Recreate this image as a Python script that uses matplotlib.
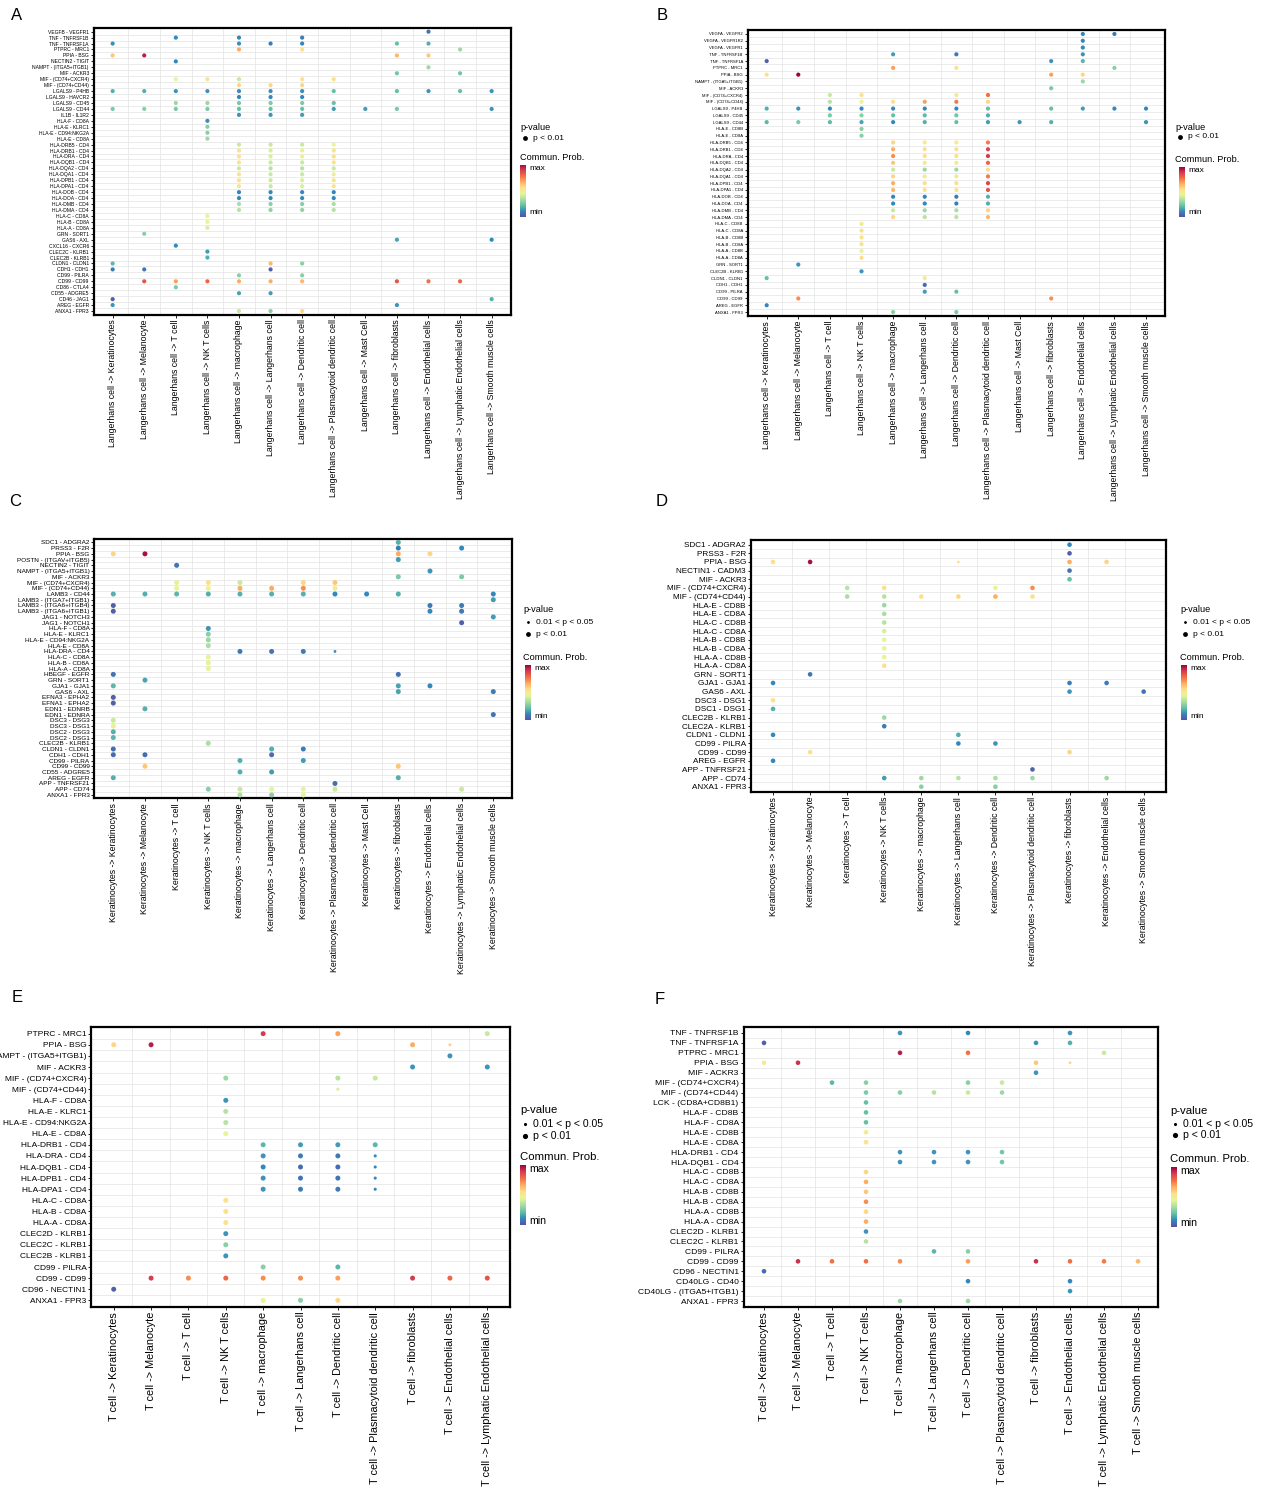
import matplotlib
matplotlib.use("Agg")
import numpy as np
import matplotlib.pyplot as plt
from matplotlib.colors import LinearSegmentedColormap

plt.rcParams["font.family"] = ["Liberation Sans", "DejaVu Sans"]

W, H = 1264, 1490

# Spectral-like palette used by the bubble plots (min -> max)
SPECTRAL = ["#5E4FA2", "#3288BD", "#66C2A5", "#ABDDA4", "#E6F598",
            "#FEE08B", "#FDAE61", "#F46D43", "#D53E4F", "#9E0142"]
DOT_CMAP = LinearSegmentedColormap.from_list(
    "dots", list(zip([0, .15, .3, .4, .5, .6, .7, .8, .9, 1.0], SPECTRAL)))
BAR_CMAP = LinearSegmentedColormap.from_list("bar", SPECTRAL)
GRID = "#e3e3e3"

# ---------------- data ----------------
TARGETS_13 = ["Keratinocytes", "Melanocyte", "T cell", "NK T cells", "macrophage",
              "Langerhans cell", "Dendritic cell", "Plasmacytoid dendritic cell",
              "Mast Cell", "fibroblasts", "Endothelial cells",
              "Lymphatic Endothelial cells", "Smooth muscle cells"]
TARGETS_D = ["Keratinocytes", "Melanocyte", "T cell", "NK T cells", "macrophage",
             "Langerhans cell", "Dendritic cell", "Plasmacytoid dendritic cell",
             "fibroblasts", "Endothelial cells", "Smooth muscle cells"]
TARGETS_E = ["Keratinocytes", "Melanocyte", "T cell", "NK T cells", "macrophage",
             "Langerhans cell", "Dendritic cell", "Plasmacytoid dendritic cell",
             "fibroblasts", "Endothelial cells", "Lymphatic Endothelial cells"]
TARGETS_F = TARGETS_E + ["Smooth muscle cells"]

# interaction -> {target column (1-based): communication probability (scaled)}
A_PROB = {
    "VEGFB - VEGFR1": {11: .10},
    "TNF - TNFRSF1B": {3: .15, 5: .15, 7: .12},
    "TNF - TNFRSF1A": {1: .17, 5: .17, 6: .12, 7: .14, 10: .30, 11: .25},
    "PTPRC - MRC1": {5: .70, 7: .60, 12: .38},
    "PPIA - BSG": {1: .65, 2: .95, 10: .68, 11: .65},
    "NECTIN2 - TIGIT": {3: .15},
    "NAMPT - (ITGA5+ITGB1)": {11: .38},
    "MIF - ACKR3": {10: .32, 12: .32},
    "MIF - (CD74+CXCR4)": {3: .50, 4: .58, 5: .45, 7: .60, 8: .60},
    "MIF - (CD74+CD44)": {5: .62, 6: .62, 7: .62},
    "LGALS9 - P4HB": {1: .25, 2: .25, 3: .18, 4: .18, 5: .17, 6: .17, 7: .17, 8: .30,
                      10: .30, 11: .18, 12: .30, 13: .18},
    "LGALS9 - HAVCR2": {5: .15, 6: .15, 7: .15},
    "LGALS9 - CD45": {3: .38, 4: .38, 5: .33, 6: .33, 7: .33, 8: .30},
    "LGALS9 - CD44": {1: .33, 2: .35, 3: .33, 4: .33, 5: .30, 6: .30, 7: .30, 8: .20,
                      9: .20, 10: .33, 13: .18},
    "IL1B - IL1R2": {5: .18, 6: .18, 7: .20},
    "HLA-F - CD8A": {4: .17},
    "HLA-E - KLRC1": {4: .35},
    "HLA-E - CD94:NKG2A": {4: .35},
    "HLA-E - CD8A": {4: .38},
    "HLA-DRB5 - CD4": {5: .45, 6: .45, 7: .45, 8: .50},
    "HLA-DRB1 - CD4": {5: .58, 6: .48, 7: .52, 8: .58},
    "HLA-DRA - CD4": {5: .60, 6: .48, 7: .52, 8: .60},
    "HLA-DQB1 - CD4": {5: .58, 6: .45, 7: .45, 8: .58},
    "HLA-DQA2 - CD4": {5: .45, 6: .42, 7: .42, 8: .45},
    "HLA-DQA1 - CD4": {5: .58, 6: .45, 7: .45, 8: .52},
    "HLA-DPB1 - CD4": {5: .58, 6: .45, 7: .48, 8: .58},
    "HLA-DPA1 - CD4": {5: .58, 6: .45, 7: .48, 8: .58},
    "HLA-DOB - CD4": {5: .15, 6: .15, 7: .15, 8: .15},
    "HLA-DOA - CD4": {5: .15, 6: .15, 7: .15, 8: .15},
    "HLA-DMB - CD4": {5: .40, 6: .35, 7: .35, 8: .40},
    "HLA-DMA - CD4": {5: .42, 6: .36, 7: .36, 8: .42},
    "HLA-C - CD8A": {4: .50},
    "HLA-B - CD8A": {4: .50},
    "HLA-A - CD8A": {4: .48},
    "GRN - SORT1": {2: .35},
    "GAS6 - AXL": {10: .22, 13: .15},
    "CXCL16 - CXCR6": {3: .15},
    "CLEC2C - KLRB1": {4: .20},
    "CLEC2B - KLRB1": {4: .25},
    "CLDN1 - CLDN1": {1: .27, 6: .68, 7: .35},
    "CDH1 - CDH1": {1: .12, 2: .10, 6: .05},
    "CD99 - PILRA": {5: .35, 7: .35},
    "CD99 - CD99": {2: .85, 3: .72, 4: .82, 5: .70, 6: .70, 7: .68, 10: .85, 11: .80, 12: .82},
    "CD86 - CTLA4": {3: .33},
    "CD55 - ADGRE5": {5: .22, 6: .20},
    "CD46 - JAG1": {1: .05, 13: .25},
    "AREG - EGFR": {1: .18, 10: .18},
    "ANXA1 - FPR3": {5: .45, 6: .35, 7: .62},
}
A_WEAK = []

B_PROB = {
    "VEGFA - VEGFR2": {11: .15, 12: .12},
    "VEGFA - VEGFR1R2": {11: .15},
    "VEGFA - VEGFR1": {11: .15},
    "TNF - TNFRSF1B": {5: .20, 7: .10, 11: .18},
    "TNF - TNFRSF1A": {1: .05, 10: .18, 11: .27},
    "PTPRC - MRC1": {5: .72, 7: .60, 12: .35},
    "PPIA - BSG": {1: .60, 2: 1.0, 10: .72, 11: .62},
    "NAMPT - (ITGA5+ITGB1)": {11: .38},
    "MIF - ACKR3": {10: .33},
    "MIF - (CD74+CXCR4)": {3: .45, 4: .60, 7: .55, 8: .80},
    "MIF - (CD74+CD44)": {3: .42, 4: .50, 5: .60, 6: .72, 7: .78, 8: .62},
    "LGALS9 - P4HB": {1: .25, 2: .18, 3: .15, 4: .15, 5: .15, 6: .15, 7: .15, 8: .30,
                      10: .30, 11: .20, 12: .15, 13: .15},
    "LGALS9 - CD45": {3: .33, 4: .35, 5: .30, 6: .28, 7: .32, 8: .25},
    "LGALS9 - CD44": {1: .27, 2: .33, 3: .28, 4: .22, 5: .15, 6: .25, 7: .30, 8: .20,
                      9: .18, 10: .25, 13: .18},
    "HLA-E - CD8B": {4: .35},
    "HLA-E - CD8A": {4: .35},
    "HLA-DRB5 - CD4": {5: .62, 6: .55, 7: .55, 8: .78},
    "HLA-DRB1 - CD4": {5: .70, 6: .60, 7: .60, 8: .88},
    "HLA-DRA - CD4": {5: .75, 6: .60, 7: .60, 8: .90},
    "HLA-DQB1 - CD4": {5: .65, 6: .55, 7: .55, 8: .82},
    "HLA-DQA2 - CD4": {5: .45, 6: .38, 7: .38, 8: .60},
    "HLA-DQA1 - CD4": {5: .62, 6: .55, 7: .55, 8: .78},
    "HLA-DPB1 - CD4": {5: .70, 6: .60, 7: .60, 8: .88},
    "HLA-DPA1 - CD4": {5: .68, 6: .60, 7: .60, 8: .85},
    "HLA-DOB - CD4": {5: .15, 6: .15, 7: .12, 8: .25},
    "HLA-DOA - CD4": {5: .15, 6: .15, 7: .12, 8: .25},
    "HLA-DMB - CD4": {5: .45, 6: .38, 7: .40, 8: .62},
    "HLA-DMA - CD4": {5: .62, 6: .42, 7: .42, 8: .68},
    "HLA-C - CD8B": {4: .55},
    "HLA-C - CD8A": {4: .60},
    "HLA-B - CD8B": {4: .58},
    "HLA-B - CD8A": {4: .58},
    "HLA-A - CD8B": {4: .50},
    "HLA-A - CD8A": {4: .60},
    "GRN - SORT1": {2: .18},
    "CLEC2B - KLRB1": {4: .18},
    "CLDN1 - CLDN1": {1: .30, 6: .55},
    "CDH1 - CDH1": {6: .08},
    "CD99 - PILRA": {6: .20, 7: .30},
    "CD99 - CD99": {2: .75, 10: .75},
    "AREG - EGFR": {1: .15},
    "ANXA1 - FPR3": {5: .35, 7: .33},
}
B_WEAK = []

C_PROB = {
    "SDC1 - ADGRA2": {10: .25},
    "PRSS3 - F2R": {10: .12, 12: .15},
    "PPIA - BSG": {1: .62, 2: .98, 10: .70, 11: .62},
    "POSTN - (ITGAV+ITGB5)": {10: .20},
    "NECTIN2 - TIGIT": {3: .10},
    "NAMPT - (ITGA5+ITGB1)": {11: .18},
    "MIF - ACKR3": {10: .33, 12: .33},
    "MIF - (CD74+CXCR4)": {3: .52, 4: .60, 5: .45, 7: .62, 8: .65},
    "MIF - (CD74+CD44)": {3: .50, 4: .50, 5: .70, 6: .70, 7: .75, 8: .52},
    "LAMB3 - CD44": {1: .25, 2: .25, 3: .27, 4: .25, 5: .25, 6: .25, 7: .25, 8: .15,
                     9: .15, 10: .25, 13: .15},
    "LAMB3 - (ITGA7+ITGB1)": {13: .20},
    "LAMB3 - (ITGA6+ITGB4)": {1: .05, 11: .12, 12: .12},
    "LAMB3 - (ITGA6+ITGB1)": {1: .05, 11: .15, 12: .12},
    "JAG1 - NOTCH3": {13: .20},
    "JAG1 - NOTCH1": {12: .05},
    "HLA-F - CD8A": {4: .18},
    "HLA-E - KLRC1": {4: .35},
    "HLA-E - CD94:NKG2A": {4: .38},
    "HLA-E - CD8A": {4: .40},
    "HLA-DRA - CD4": {5: .12, 6: .10, 7: .12, 8: .15},
    "HLA-C - CD8A": {4: .50},
    "HLA-B - CD8A": {4: .52},
    "HLA-A - CD8A": {4: .50},
    "HBEGF - EGFR": {1: .10, 10: .10},
    "GRN - SORT1": {2: .22},
    "GJA1 - GJA1": {1: .27, 10: .22, 11: .15},
    "GAS6 - AXL": {10: .22, 13: .12},
    "EFNA3 - EPHA2": {1: .05},
    "EFNA1 - EPHA2": {1: .05},
    "EDN1 - EDNRB": {2: .25},
    "EDN1 - EDNRA": {13: .10},
    "DSC3 - DSG3": {1: .45},
    "DSC3 - DSG1": {1: .52},
    "DSC2 - DSG3": {1: .25},
    "DSC2 - DSG1": {1: .27},
    "CLEC2B - KLRB1": {4: .40},
    "CLDN1 - CLDN1": {1: .08, 6: .25, 7: .12},
    "CDH1 - CDH1": {1: .08, 2: .08, 6: .08},
    "CD99 - PILRA": {5: .25, 7: .20},
    "CD99 - CD99": {2: .65, 10: .65},
    "CD55 - ADGRE5": {5: .25, 6: .20},
    "AREG - EGFR": {1: .25, 10: .25},
    "APP - TNFRSF21": {8: .08},
    "APP - CD74": {4: .35, 5: .45, 6: .50, 7: .50, 8: .45, 12: .45},
    "ANXA1 - FPR3": {5: .40, 6: .35, 7: .50},
}
C_WEAK = [("HLA-DRA - CD4", 8)]

D_PROB = {
    "SDC1 - ADGRA2": {9: .15},
    "PRSS3 - F2R": {9: .05},
    "PPIA - BSG": {1: .60, 2: .98, 6: .60, 9: .70, 10: .62},
    "NECTIN1 - CADM3": {9: .10},
    "MIF - ACKR3": {9: .30},
    "MIF - (CD74+CXCR4)": {3: .42, 4: .60, 7: .50, 8: .75},
    "MIF - (CD74+CD44)": {3: .40, 4: .42, 5: .60, 6: .62, 7: .70, 8: .60},
    "HLA-E - CD8B": {4: .38},
    "HLA-E - CD8A": {4: .40},
    "HLA-C - CD8B": {4: .42},
    "HLA-C - CD8A": {4: .48},
    "HLA-B - CD8B": {4: .50},
    "HLA-B - CD8A": {4: .50},
    "HLA-A - CD8B": {4: .50},
    "HLA-A - CD8A": {4: .60},
    "GRN - SORT1": {2: .10},
    "GJA1 - GJA1": {1: .15, 9: .12, 10: .12},
    "GAS6 - AXL": {9: .18, 11: .10},
    "DSC3 - DSG1": {1: .60},
    "DSC1 - DSG1": {1: .25},
    "CLEC2B - KLRB1": {4: .38},
    "CLEC2A - KLRB1": {4: .12},
    "CLDN1 - CLDN1": {1: .15, 6: .25},
    "CD99 - PILRA": {6: .15, 7: .18},
    "CD99 - CD99": {2: .60, 9: .62},
    "AREG - EGFR": {1: .15},
    "APP - TNFRSF21": {8: .05},
    "APP - CD74": {4: .20, 5: .38, 6: .42, 7: .40, 8: .38, 10: .38},
    "ANXA1 - FPR3": {5: .35, 7: .35},
}
D_WEAK = [("PPIA - BSG", 6)]

E_PROB = {
    "PTPRC - MRC1": {5: .90, 7: .72, 11: .45},
    "PPIA - BSG": {1: .62, 2: .95, 9: .70, 10: .62},
    "NAMPT - (ITGA5+ITGB1)": {10: .18},
    "MIF - ACKR3": {9: .18, 11: .18},
    "MIF - (CD74+CXCR4)": {4: .38, 7: .42, 8: .45},
    "MIF - (CD74+CD44)": {7: .48},
    "HLA-F - CD8A": {4: .18},
    "HLA-E - KLRC1": {4: .42},
    "HLA-E - CD94:NKG2A": {4: .42},
    "HLA-E - CD8A": {4: .50},
    "HLA-DRB1 - CD4": {5: .27, 6: .20, 7: .20, 8: .27},
    "HLA-DRA - CD4": {5: .18, 6: .12, 7: .12, 8: .15},
    "HLA-DQB1 - CD4": {5: .15, 6: .08, 7: .08, 8: .15},
    "HLA-DPB1 - CD4": {5: .18, 6: .10, 7: .10, 8: .15},
    "HLA-DPA1 - CD4": {5: .18, 6: .12, 7: .12, 8: .15},
    "HLA-C - CD8A": {4: .60},
    "HLA-B - CD8A": {4: .60},
    "HLA-A - CD8A": {4: .60},
    "CLEC2D - KLRB1": {4: .18},
    "CLEC2C - KLRB1": {4: .35},
    "CLEC2B - KLRB1": {4: .18},
    "CD99 - PILRA": {5: .35, 7: .27},
    "CD99 - CD99": {2: .90, 3: .75, 4: .82, 5: .75, 6: .75, 7: .72, 9: .90, 10: .82, 11: .85},
    "CD96 - NECTIN1": {1: .05},
    "ANXA1 - FPR3": {5: .50, 6: .35, 7: .62},
}
E_WEAK = [("PPIA - BSG", 10), ("MIF - (CD74+CD44)", 7), ("HLA-DRA - CD4", 8),
          ("HLA-DQB1 - CD4", 8), ("HLA-DPB1 - CD4", 8), ("HLA-DPA1 - CD4", 8)]

F_PROB = {
    "TNF - TNFRSF1B": {5: .18, 7: .15, 10: .18},
    "TNF - TNFRSF1A": {1: .05, 9: .18, 10: .25},
    "PTPRC - MRC1": {5: .95, 7: .80, 11: .45},
    "PPIA - BSG": {1: .55, 2: .92, 9: .65, 10: .62},
    "MIF - ACKR3": {9: .18},
    "MIF - (CD74+CXCR4)": {3: .27, 4: .35, 7: .35, 8: .45},
    "MIF - (CD74+CD44)": {4: .33, 5: .35, 6: .42, 7: .45, 8: .38},
    "LCK - (CD8A+CD8B1)": {4: .30},
    "HLA-F - CD8B": {4: .30},
    "HLA-F - CD8A": {4: .30},
    "HLA-E - CD8B": {4: .55},
    "HLA-E - CD8A": {4: .60},
    "HLA-DRB1 - CD4": {5: .18, 6: .18, 7: .18, 8: .32},
    "HLA-DQB1 - CD4": {5: .18, 6: .18, 7: .18, 8: .32},
    "HLA-C - CD8B": {4: .62},
    "HLA-C - CD8A": {4: .70},
    "HLA-B - CD8B": {4: .65},
    "HLA-B - CD8A": {4: .75},
    "HLA-A - CD8B": {4: .62},
    "HLA-A - CD8A": {4: .70},
    "CLEC2D - KLRB1": {4: .18},
    "CLEC2C - KLRB1": {4: .42},
    "CD99 - PILRA": {6: .27, 7: .35},
    "CD99 - CD99": {2: .92, 3: .80, 4: .80, 5: .75, 7: .72, 9: .92, 10: .80, 11: .78, 12: .68},
    "CD96 - NECTIN1": {1: .08},
    "CD40LG - CD40": {7: .15, 10: .15},
    "CD40LG - (ITGA5+ITGB1)": {10: .18},
    "ANXA1 - FPR3": {5: .38, 7: .38},
}
F_WEAK = [("PPIA - BSG", 10)]


fig = plt.figure(figsize=(W / 100, H / 100), dpi=100)
overlay = fig.add_axes([0, 0, 1, 1])
overlay.set_xlim(0, W)
overlay.set_ylim(H, 0)
overlay.axis("off")


def px_axes(left, top, right, bottom):
    return fig.add_axes([left / W, 1 - bottom / H, (right - left) / W, (bottom - top) / H])


def bubble(box, source, targets, probs, weak, s_big, s_small, yfs, xfs):
    ax = px_axes(*box)
    rows = list(probs.keys())
    n, m = len(rows), len(targets)
    xs, ys, cs, ss = [], [], [], []
    for i, lr in enumerate(rows):
        for j, v in probs[lr].items():
            xs.append(j - 1)
            ys.append(i)
            cs.append(v)
            ss.append(s_small if (lr, j) in weak else s_big)
    for k in range(m - 1):
        ax.axvline(k + 0.5, color=GRID, lw=0.5, zorder=0)
    for k in range(n - 1):
        ax.axhline(k + 0.5, color=GRID, lw=0.5, zorder=0)
    ax.scatter(xs, ys, c=cs, s=ss, cmap=DOT_CMAP, vmin=0, vmax=1,
               linewidths=0, zorder=3)
    ax.set_xlim(-0.6, m - 0.4)
    ax.set_ylim(n - 0.4, -0.6)
    ax.set_xticks(range(m))
    ax.set_xticklabels([f"{source} -> {t}" for t in targets], rotation=90, fontsize=xfs)
    ax.set_yticks(range(n))
    ax.set_yticklabels(rows, fontsize=yfs)
    ax.tick_params(length=2, width=0.6, pad=1.5)
    for sp in ax.spines.values():
        sp.set_linewidth(1.6)
    return ax


def legend(x0, y_title, entries, y_cb, bar, fs, s_big, s_small):
    overlay.text(x0, y_title, "p-value", fontsize=fs, va="center", ha="left")
    labels = ["0.01 < p < 0.05", "p < 0.01"] if len(entries) == 2 else ["p < 0.01"]
    sizes = [s_small, s_big] if len(entries) == 2 else [s_big]
    for yy, lab, s in zip(entries, labels, sizes):
        overlay.scatter([x0 + 5], [yy], s=s, color="black", linewidths=0)
        overlay.text(x0 + 13, yy, lab, fontsize=fs - 0.6, va="center", ha="left")
    overlay.text(x0, y_cb, "Commun. Prob.", fontsize=fs, va="center", ha="left")
    cax = px_axes(*bar)
    cax.imshow(np.linspace(1, 0, 256)[:, None], aspect="auto", cmap=BAR_CMAP)
    cax.axis("off")
    overlay.text(bar[2] + 3, bar[1] + 4, "max", fontsize=fs - 0.6, va="center", ha="left")
    overlay.text(bar[2] + 3, bar[3] - 4, "min", fontsize=fs - 0.6, va="center", ha="left")


# panels
bubble((93.7, 28.1, 510.6, 314.6), "Langerhans cell", TARGETS_13, A_PROB, A_WEAK, 9, 4, 3.6, 6.3)
bubble((747.7, 29.9, 1165, 316.1), "Langerhans cell", TARGETS_13, B_PROB, B_WEAK, 9, 4, 3.0, 6.3)
bubble((94.3, 538.9, 512.3, 798.4), "Keratinocytes", TARGETS_13, C_PROB, C_WEAK, 13, 4, 4.6, 6.3)
bubble((750.8, 539.5, 1165.9, 791.9), "Keratinocytes", TARGETS_D, D_PROB, D_WEAK, 11, 4, 5.9, 6.3)
bubble((91.3, 1027, 509.7, 1307), "T cell", TARGETS_E, E_PROB, E_WEAK, 13, 5, 6.0, 7.8)
bubble((743.6, 1027, 1158.4, 1307), "T cell", TARGETS_F, F_PROB, F_WEAK, 11, 4, 6.1, 7.8)

legend(520, 127, [138], 158, (520, 165, 526, 217), 6.6, 12, 4)
legend(1175, 127, [137], 159, (1179, 167, 1185, 217), 6.6, 12, 4)
legend(523, 610, [622, 634], 657, (525, 665, 531, 720), 6.6, 12, 4)
legend(1180, 610, [622, 634], 657, (1181, 665, 1187, 720), 6.6, 12, 4)
legend(520, 1110, [1124, 1136], 1157, (520, 1165, 526, 1225), 8.2, 14, 5)
legend(1170, 1111, [1124, 1135], 1159, (1171, 1167, 1177, 1227), 8.2, 14, 5)

for letter, (lx, ly) in zip("ABCDEF", [(17, 15), (662, 16), (15, 502),
                                      (662, 502), (17, 997), (660, 1000)]):
    overlay.text(lx, ly, letter, fontsize=12, ha="center", va="center")

fig.savefig("out.png", dpi=100)
